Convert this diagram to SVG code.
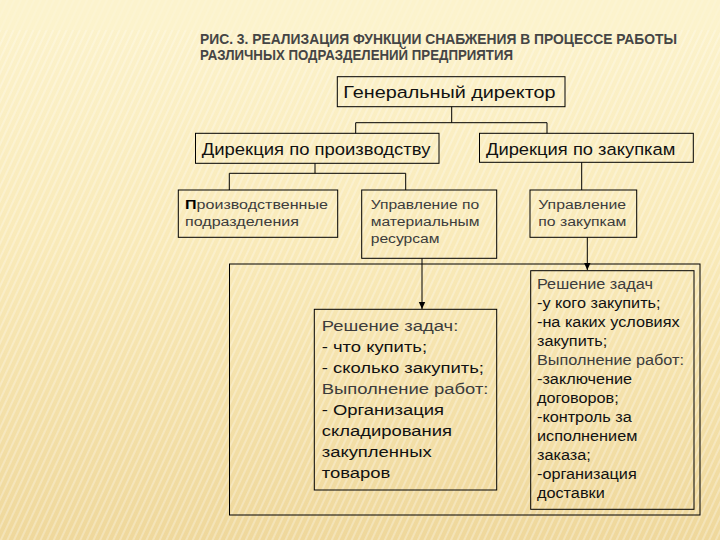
<svg xmlns="http://www.w3.org/2000/svg" width="720" height="540" viewBox="0 0 720 540">
  <defs>
    <linearGradient id="bg" x1="0" y1="0" x2="0" y2="1">
      <stop offset="0" stop-color="#fcf3cd"/>
      <stop offset="0.45" stop-color="#f9eab9"/>
      <stop offset="1" stop-color="#efd89c"/>
    </linearGradient>
    <linearGradient id="gold" x1="0" y1="0" x2="1" y2="0">
      <stop offset="0" stop-color="#f3e3a6" stop-opacity="0.3"/>
      <stop offset="0.4" stop-color="#dcbd68"/>
      <stop offset="1" stop-color="#d0ad55"/>
    </linearGradient>
    <pattern id="stripes" width="6" height="6" patternUnits="userSpaceOnUse" patternTransform="rotate(25)">
      <rect width="2" height="6" fill="#ffffff" opacity="0.28"/>
    </pattern>
    <marker id="arrow" markerWidth="8" markerHeight="8" refX="7" refY="4" orient="auto" markerUnits="userSpaceOnUse">
      <path d="M0,0.8 L7,4 L0,7.2 Z" fill="#000"/>
    </marker>
    <style>
      .box { fill: none; stroke: #000; stroke-width: 1; }
      .ln { fill: none; stroke: #000; stroke-width: 1; }
      .t { font-family: "Liberation Sans", Arial, sans-serif; fill: #111; }
      .g { fill: #3c3c3c; }
      .h1 { font-size: 16.5px; }
      .h2 { font-size: 13.5px; }
      .h3 { font-size: 15.5px; }
      .h4 { font-size: 14px; }
      .title { font-family: "Liberation Sans", Arial, sans-serif; font-weight: bold; font-size: 14.5px; fill: #454545; }
    </style>
  </defs>

  <rect width="720" height="540" fill="url(#bg)"/>
  <rect width="720" height="540" fill="url(#stripes)"/>
  <rect width="720" height="30" fill="#fcf3cd" opacity="0.6"/>
  <line x1="55" y1="81.5" x2="337" y2="81.5" stroke="url(#gold)" stroke-width="2.5"/>

  <g id="title">
    <text class="title" x="200" y="43.5" textLength="477" lengthAdjust="spacingAndGlyphs">РИС. 3. РЕАЛИЗАЦИЯ ФУНКЦИИ СНАБЖЕНИЯ В ПРОЦЕССЕ РАБОТЫ</text>
    <text class="title" x="200" y="59.5" textLength="313" lengthAdjust="spacingAndGlyphs">РАЗЛИЧНЫХ ПОДРАЗДЕЛЕНИЙ ПРЕДПРИЯТИЯ</text>
  </g>

  <g id="connectors">
    <path class="ln" d="M451.7,106.7 V122.7 M355.7,133.3 V122.7 H547 V133.3"/>
    <path class="ln" d="M315,163.3 V173.3 M229.3,190 V173.3 H405.7 V190"/>
    <path class="ln" d="M581.7,162.3 V190"/>
    <path class="ln" d="M587.3,237.3 V270" stroke-width="2" marker-end="url(#arrow)"/>
    <path class="ln" d="M422,258.3 V309" marker-end="url(#arrow)"/>
    <rect class="box" x="229.5" y="264" width="470.5" height="251"/>
  </g>

  <g id="gen">
    <rect class="box" x="337.3" y="76.7" width="227.7" height="30"/>
    <text class="t h1" transform="translate(343.3,0) scale(1.2,1)" x="0" y="98">Генеральный директор</text>
  </g>

  <g id="dir_prod">
    <rect class="box" x="195.5" y="133.3" width="243.5" height="30"/>
    <text class="t h1" transform="translate(201.7,0) scale(1.12,1)" x="0" y="155.5">Дирекция по производству</text>
  </g>

  <g id="dir_zak">
    <rect class="box" x="479.5" y="133.3" width="213.8" height="29"/>
    <text class="t h1" transform="translate(486,0) scale(1.113,1)" x="0" y="155">Дирекция по закупкам</text>
  </g>

  <g id="prod_pod">
    <rect class="box" x="178.3" y="190" width="159.4" height="47.3"/>
    <g transform="translate(185,0) scale(1.19,1)">
      <text class="t h2 g" x="0" y="209.5"><tspan font-weight="bold" fill="#000">П</tspan>роизводственные</text>
      <text class="t h2 g" x="0" y="226.5">подразделения</text>
    </g>
  </g>

  <g id="upr_mat">
    <rect class="box" x="361.7" y="190" width="135" height="68.3"/>
    <g transform="translate(370.7,0) scale(1.16,1)">
      <text class="t h2 g" x="0" y="209.5">Управление по</text>
      <text class="t h2 g" x="0" y="226.5">материальным</text>
      <text class="t h2 g" x="0" y="243.5">ресурсам</text>
    </g>
  </g>

  <g id="upr_zak">
    <rect class="box" x="530" y="190" width="106.7" height="47.3"/>
    <g transform="translate(538.3,0) scale(1.17,1)">
      <text class="t h2 g" x="0" y="209.5">Управление</text>
      <text class="t h2 g" x="0" y="226.5">по закупкам</text>
    </g>
  </g>

  <g id="tasks_mat">
    <rect class="box" x="314.3" y="309.3" width="182.4" height="180.7"/>
    <g transform="translate(321.7,0) scale(1.19,1)">
      <text class="t h3 g" x="0" y="331">Решение задач:</text>
      <text class="t h3" x="0" y="352">- что купить;</text>
      <text class="t h3" x="0" y="373">- сколько закупить;</text>
      <text class="t h3 g" x="0" y="394">Выполнение работ:</text>
      <text class="t h3" x="0" y="415">- Организация</text>
      <text class="t h3" x="0" y="436">складирования</text>
      <text class="t h3" x="0" y="457">закупленных</text>
      <text class="t h3" x="0" y="478">товаров</text>
    </g>
  </g>

  <g id="tasks_zak">
    <rect class="box" x="530.7" y="270.7" width="163.3" height="238.6"/>
    <g transform="translate(537,0) scale(1.16,1)">
      <text class="t h4 g" x="0" y="289">Решение задач</text>
      <text class="t h4" x="0" y="308">-у кого закупить;</text>
      <text class="t h4" x="0" y="327">-на каких условиях</text>
      <text class="t h4" x="0" y="346">закупить;</text>
      <text class="t h4 g" x="0" y="365">Выполнение работ:</text>
      <text class="t h4" x="0" y="384">-заключение</text>
      <text class="t h4" x="0" y="403">договоров;</text>
      <text class="t h4" x="0" y="422">-контроль за</text>
      <text class="t h4" x="0" y="441">исполнением</text>
      <text class="t h4" x="0" y="460">заказа;</text>
      <text class="t h4" x="0" y="479">-организация</text>
      <text class="t h4" x="0" y="498">доставки</text>
    </g>
  </g>
</svg>
